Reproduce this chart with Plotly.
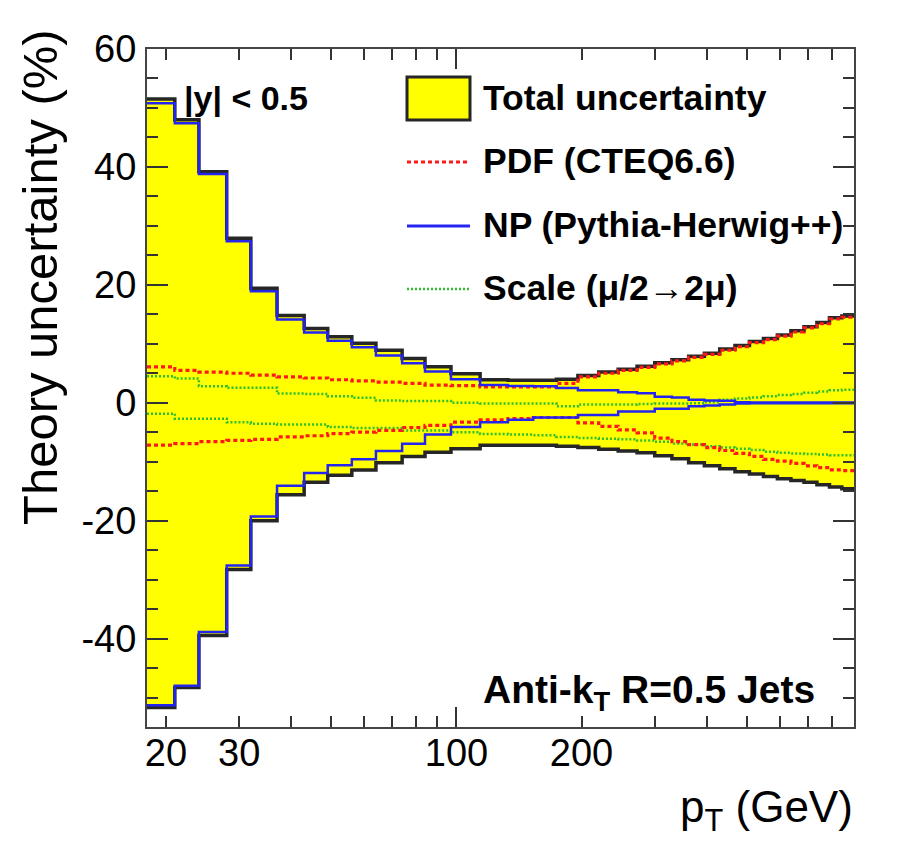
import math
import plotly.graph_objects as go

# ---------------- data ----------------
pt_edges = [18, 21, 24, 28, 32, 37, 43, 49, 56, 64, 74, 84, 97, 114, 133, 153, 174,
            196, 220, 245, 272, 300, 330, 362, 395, 430, 468, 507, 548, 592, 638,
            686, 737, 790, 846, 905]

total_up = [51.5, 48.0, 39.2, 27.9, 19.4, 14.8, 12.6, 11.2, 10.1, 8.9, 7.5, 6.1,
            4.9, 3.9, 3.8, 3.8, 4.0, 4.6, 5.2, 5.7, 6.2, 6.8, 7.3, 7.9, 8.4, 9.1,
            9.7, 10.4, 10.9, 11.5, 12.2, 12.9, 13.6, 14.4, 14.7]
total_dn = [-51.7, -48.3, -39.5, -28.3, -20.0, -15.6, -13.5, -12.3, -11.4, -10.2,
            -9.1, -8.4, -7.8, -7.2, -7.2, -7.2, -7.4, -7.6, -7.9, -8.2, -8.5, -9.0,
            -9.5, -10.2, -10.7, -11.2, -11.7, -12.1, -12.5, -12.9, -13.2, -13.5,
            -13.9, -14.3, -14.6]

pdf_up = [6.1, 5.5, 5.2, 5.0, 4.7, 4.4, 4.2, 3.9, 3.7, 3.5, 3.3, 3.0, 2.9, 2.7,
          2.7, 2.7, 3.3, 4.4, 5.0, 5.5, 6.0, 6.6, 7.1, 7.7, 8.2, 8.9, 9.5, 10.2,
          10.7, 11.3, 12.0, 12.7, 13.4, 14.2, 14.5]
pdf_dn = [-7.2, -6.95, -6.6, -6.4, -6.2, -5.8, -5.6, -5.25, -5.0, -4.7, -4.2,
          -3.85, -3.3, -2.9, -2.7, -2.5, -2.5, -3.4, -4.0, -4.6, -5.1, -6.0, -6.6,
          -7.1, -7.6, -8.1, -8.6, -9.1, -9.6, -9.9, -10.3, -10.7, -11.0, -11.4,
          -11.5]

np_up = [50.8, 47.4, 38.8, 27.4, 18.9, 14.1, 11.9, 10.5, 9.4, 8.0, 6.7, 5.3, 4.0,
         3.0, 2.85, 2.8, 2.5, 2.1, 2.1, 1.8, 1.6, 1.0, 0.9, 0.5, 0.4, 0.35, 0.1,
         0.05, 0.05, 0.05, 0.05, 0.05, 0.05, 0.05, 0.05]
np_dn = [-51.3, -48.0, -38.9, -27.6, -19.3, -14.1, -11.9, -10.6, -9.6, -8.2,
         -6.95, -5.4, -4.1, -3.3, -2.9, -2.5, -2.5, -2.1, -2.1, -1.5, -1.5, -1.0,
         -1.0, -0.6, -0.45, -0.3, -0.15, -0.1, -0.1, -0.1, -0.1, -0.1, -0.1, -0.1,
         -0.1]

scale_up = [4.5, 4.1, 2.8, 2.55, 2.55, 1.55, 1.5, 1.1, 0.85, 0.4, 0.3, 0.3, 0.0,
            -0.15, -0.15, -0.15, -0.6, -0.3, -0.3, -0.3, -0.2, -0.15, -0.15, -0.1,
            0.1, 0.5, 0.7, 0.9, 1.1, 1.3, 1.5, 1.7, 1.9, 2.1, 2.2]
scale_dn = [-1.85, -2.7, -2.7, -3.3, -3.55, -3.7, -3.7, -4.1, -4.3, -4.3, -4.7,
            -4.7, -5.0, -5.3, -5.4, -5.5, -5.8, -6.0, -6.1, -6.2, -6.4, -6.6, -6.9,
            -7.1, -7.4, -7.6, -7.8, -8.0, -8.3, -8.5, -8.6, -8.7, -8.8, -8.9, -8.9]

x_major_ticks = [20, 30, 100, 200]
x_major_labels = ["20", "30", "100", "200"]
x_minor_ticks = [40, 50, 60, 70, 80, 90, 300, 400, 500, 600, 700, 800]
x_decade_ticks = [100]
y_ticks = [-40, -20, 0, 20, 40, 60]
y_labels = ["-40", "-20", "0", "20", "40", "60"]

legend_labels = ["Total uncertainty", "PDF (CTEQ6.6)", "NP (Pythia-Herwig++)",
                 "Scale (\u03bc/2\u21922\u03bc)"]

# ---------------- styling ----------------
FONT = "Liberation Sans, Arial, Helvetica, sans-serif"
YELLOW = "#ffff00"
BLACK = "#262626"
RED = "#ff1a1a"
BLUE = "#2424f0"
GREEN = "#2fbf2f"

# page body has an 8px margin: plot area kept at x 147..854, y 49..727 of the window
PLOT_L, PLOT_T, PLOT_W, PLOT_H = 147, 49, 707, 678
BODY = 8
FIG_W, FIG_H = 887, 834


def step(vals):
    return list(vals) + [vals[-1]]


fig = go.Figure()

# filled band (total uncertainty)
fig.add_trace(go.Scatter(x=pt_edges, y=step(total_dn), mode="lines",
                         line=dict(shape="hv", width=0, color=YELLOW),
                         hoverinfo="skip", showlegend=False))
fig.add_trace(go.Scatter(x=pt_edges, y=step(total_up), mode="lines",
                         line=dict(shape="hv", width=0, color=YELLOW),
                         fill="tonexty", fillcolor=YELLOW,
                         hoverinfo="skip", showlegend=False))

# outline of total
for v in (total_up, total_dn):
    fig.add_trace(go.Scatter(x=pt_edges, y=step(v), mode="lines",
                             line=dict(shape="hv", width=3.5, color=BLACK),
                             showlegend=False))
# scale
for v in (scale_up, scale_dn):
    fig.add_trace(go.Scatter(x=pt_edges, y=step(v), mode="lines",
                             line=dict(shape="hv", width=2.5, color=GREEN,
                                       dash="2px,2px"),
                             showlegend=False))
# pdf
for v in (pdf_up, pdf_dn):
    fig.add_trace(go.Scatter(x=pt_edges, y=step(v), mode="lines",
                             line=dict(shape="hv", width=3.2, color=RED,
                                       dash="4px,3px"),
                             showlegend=False))
# NP
for v in (np_up, np_dn):
    fig.add_trace(go.Scatter(x=pt_edges, y=step(v), mode="lines",
                             line=dict(shape="hv", width=2.5, color=BLUE),
                             showlegend=False))

# invisible trace carrying the overlay x axis (long decade tick)
fig.add_trace(go.Scatter(x=pt_edges, y=step(total_up), xaxis="x2", mode="lines",
                         opacity=0, hoverinfo="skip", showlegend=False))

xr = [math.log10(pt_edges[0]), math.log10(pt_edges[-1])]

ml = PLOT_L - BODY
mt = PLOT_T - BODY
mr = FIG_W - ml - PLOT_W
mb = FIG_H - mt - PLOT_H

fig.update_layout(
    width=FIG_W, height=FIG_H,
    margin=dict(l=ml, r=mr, t=mt, b=mb),
    paper_bgcolor="white", plot_bgcolor="white",
    font=dict(family=FONT, color="black"),
    showlegend=False,
    xaxis=dict(type="log", range=xr, tickmode="array", tickvals=x_major_ticks,
               ticktext=x_major_labels, ticks="inside", ticklen=11, tickwidth=2,
               tickcolor="#333", showgrid=False, zeroline=False,
               showline=True, linecolor="#444", linewidth=2, mirror="ticks",
               tickfont=dict(size=38, family=FONT), ticklabelstandoff=-9,
               minor=dict(tickmode="array", tickvals=x_minor_ticks, ticks="inside",
                          ticklen=11, tickwidth=2, tickcolor="#333", showgrid=False)),
    xaxis2=dict(type="log", range=xr, overlaying="x", anchor="y", side="bottom",
                tickmode="array", tickvals=x_decade_ticks, ticks="inside",
                ticklen=20, tickwidth=2, tickcolor="#333", showticklabels=False,
                showgrid=False, zeroline=False, showline=False, mirror="ticks"),
    yaxis=dict(range=[-55, 60], tickmode="array", tickvals=y_ticks,
               ticktext=y_labels,
               ticks="inside", ticklen=21, tickwidth=2, tickcolor="#333",
               showgrid=False, zeroline=False, showline=True, linecolor="#444",
               linewidth=2, mirror="ticks", tickfont=dict(size=38, family=FONT),
               ticklabelstandoff=1,
               minor=dict(dtick=5, tick0=0, ticks="inside", ticklen=11, tickwidth=2,
                          tickcolor="#333", showgrid=False)),
)


def px_x(p):
    return (p - PLOT_L) / float(PLOT_W)


def px_y(p):
    return (PLOT_T + PLOT_H - p) / float(PLOT_H)


# axis titles (ROOT style: aligned to the axis ends)
fig.add_annotation(text="Theory uncertainty (%)", textangle=-90, xref="paper",
                   yref="paper", x=px_x(40), y=px_y(27), xanchor="center",
                   yanchor="top", showarrow=False, font=dict(size=49, family=FONT))
fig.add_annotation(text="p<sub>T</sub> (GeV)", xref="paper", yref="paper",
                   x=px_x(855), y=px_y(810), xanchor="right", yanchor="middle",
                   showarrow=False, font=dict(size=44, family=FONT))

# text labels inside plot
fig.add_annotation(text="<b>|y| < 0.5</b>", xref="paper", yref="paper",
                   x=px_x(182), y=px_y(98), xanchor="left", yanchor="middle",
                   showarrow=False, font=dict(size=34, family=FONT))
fig.add_annotation(text="<b>Anti-k<sub>T</sub> R=0.5 Jets</b>", xref="paper",
                   yref="paper", x=px_x(481), y=px_y(692), xanchor="left",
                   yanchor="middle", showarrow=False, font=dict(size=39, family=FONT))

# manual legend
fig.add_shape(type="rect", xref="paper", yref="paper", x0=px_x(407), x1=px_x(470),
              y0=px_y(120), y1=px_y(77), fillcolor=YELLOW,
              line=dict(color=BLACK, width=3))
leg_styles = [(RED, "4px,3px", 3.2, 162), (BLUE, "solid", 3, 226),
              (GREEN, "2px,2px", 2.5, 289)]
for col, dash, w, yp in leg_styles:
    fig.add_shape(type="line", xref="paper", yref="paper", x0=px_x(407),
                  x1=px_x(470), y0=px_y(yp), y1=px_y(yp),
                  line=dict(color=col, width=w, dash=dash))
for lab, yp in zip(legend_labels, [98, 161, 225, 288]):
    fig.add_annotation(text="<b>" + lab + "</b>", xref="paper", yref="paper",
                       x=px_x(481), y=px_y(yp), xanchor="left", yanchor="middle",
                       showarrow=False, font=dict(size=35.5, family=FONT))

fig.write_html("out.html")
